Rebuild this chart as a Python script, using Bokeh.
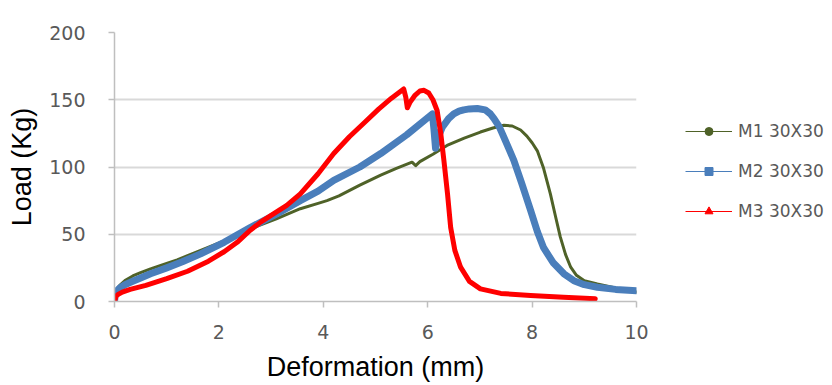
from bokeh.plotting import figure
from bokeh.layouts import row
from bokeh.models import Legend, LegendItem, Range1d, FixedTicker, ColumnDataSource
from bokeh.embed import file_html
from bokeh.resources import INLINE

# ---- data ----
m1_x = [0, 0.02, 0.1, 0.2, 0.35, 0.5, 0.69, 0.9, 1.2, 1.65, 2.1, 2.6, 3.1, 3.56, 3.9, 4.07, 4.3, 4.7, 5.1, 5.4, 5.7, 5.77, 5.85, 6.1, 6.37, 6.7, 7.01, 7.25, 7.46, 7.62, 7.78, 7.9, 8.0, 8.1, 8.22, 8.35, 8.45, 8.54, 8.64, 8.74, 8.85, 9.0, 9.25, 9.6, 10]
m1_y = [0, 8, 12, 15.5, 19, 21.5, 24.3, 27, 31, 38, 45, 54, 61.5, 69, 73, 75, 78.5, 86.5, 94, 99, 103.6, 101, 104, 109.5, 116, 121.5, 126, 129, 131, 130.5, 127.5, 123, 118, 112, 99, 80, 63, 48, 35, 25.5, 19.5, 15.5, 13, 10, 7]

m2_x = [0, 0.02, 0.1, 0.2, 0.35, 0.5, 0.69, 1.0, 1.3, 1.65, 2.1, 2.6, 3.1, 3.56, 3.9, 4.2, 4.7, 5.1, 5.6, 6.09, 6.12, 6.15, 6.2, 6.28, 6.4, 6.5, 6.6, 6.69, 6.8, 6.95, 7.1, 7.2, 7.27, 7.37, 7.45, 7.55, 7.65, 7.8, 7.97, 8.1, 8.22, 8.4, 8.61, 8.8, 9.0, 9.25, 9.6, 10]
m2_y = [0, 7, 10, 12.5, 15, 17.5, 20.6, 25, 29.5, 35.4, 44, 55, 65, 75, 82, 90, 100, 110, 124, 139.5, 128, 114, 122, 129.6, 136, 139.5, 141.5, 142.5, 143.2, 143.5, 142.5, 139.5, 136, 130, 123, 114, 105, 88, 68, 52, 40, 29, 20.6, 15.5, 12.5, 10.6, 9, 8]

m3_x = [0, 0.03, 0.08, 0.15, 0.3, 0.6, 1.0, 1.4, 1.8, 2.1, 2.35, 2.6, 2.8, 3.0, 3.3, 3.56, 3.9, 4.2, 4.5, 4.8, 5.06, 5.3, 5.54, 5.58, 5.61, 5.66, 5.75, 5.85, 5.93, 6.02, 6.1, 6.18, 6.25, 6.31, 6.38, 6.44, 6.52, 6.63, 6.8, 7.01, 7.4, 7.97, 8.6, 9.21]
m3_y = [0, 4, 5.5, 7, 9, 12, 17, 22.5, 30, 37, 44, 53, 59, 64, 71.5, 80, 95, 110, 122.5, 133.5, 143, 151, 158, 152, 144, 148, 153, 156.5, 157, 155, 150, 142, 125, 105, 80, 55, 38, 25.5, 15, 9.4, 6, 4.5, 3.2, 2]

series_names = ["M1 30X30", "M2 30X30", "M3 30X30"]
x_ticks = [0, 2, 4, 6, 8, 10]
y_ticks = [0, 50, 100, 150, 200]

colors = ["#4f6228", "#4a7ebb", "#ff0000"]
widths = [3, 7, 5]
markers = ["circle", "square", "triangle"]
marker_sizes = [4, 7, 7]

p = figure(width=650, height=385, output_backend="svg", toolbar_location=None,
           x_range=Range1d(0, 10), y_range=Range1d(0, 200),
           min_border_left=114, min_border_right=14, min_border_top=32, min_border_bottom=84)
p.outline_line_color = None
p.background_fill_color = "white"
p.border_fill_color = "white"

# legend-only panel to the right of the chart
lg = figure(width=182, height=385, output_backend="svg", toolbar_location=None,
            x_range=Range1d(0, 1), y_range=Range1d(0, 1),
            min_border_left=0, min_border_right=0, min_border_top=0, min_border_bottom=0)
lg.axis.visible = False
lg.grid.visible = False
lg.outline_line_color = None
lg.border_fill_color = "white"
lg.background_fill_color = "white"

data = [(m1_x, m1_y), (m2_x, m2_y), (m3_x, m3_y)]
items = []
for (xs, ys), c, w, mk, ms, name in zip(data, colors, widths, markers, marker_sizes, series_names):
    p.line(xs, ys, line_color=c, line_width=w, line_join="round", line_cap="round")
    src = ColumnDataSource(dict(x=[float("nan")], y=[float("nan")]))
    lr = lg.line("x", "y", source=src, line_color=c, line_width=1)
    sr = lg.scatter("x", "y", source=src, marker=mk, size=ms, fill_color=c, line_color=c)
    items.append(LegendItem(label=name, renderers=[lr, sr]))

legend = Legend(items=items, location=(35, 80), padding=0, margin=0, spacing=20,
                glyph_width=47, glyph_height=20, label_height=20, label_standoff=6,
                label_text_font="DejaVu Sans", label_text_font_size="17px",
                label_text_color="#595959", border_line_color=None,
                background_fill_alpha=0)
lg.add_layout(legend, "center")

p.xaxis.ticker = FixedTicker(ticks=x_ticks)
p.yaxis.ticker = FixedTicker(ticks=y_ticks)
p.xgrid.visible = False
p.ygrid.grid_line_color = "#d9d9d9"
p.ygrid.grid_line_width = 2

for ax in (p.xaxis[0], p.yaxis[0]):
    ax.axis_line_color = "#bfbfbf"
    ax.axis_line_width = 1.5
    ax.major_tick_line_color = "#bfbfbf"
    ax.major_tick_line_width = 1.5
    ax.major_tick_in = 0
    ax.major_tick_out = 6
    ax.minor_tick_line_color = None
    ax.major_label_text_font = "DejaVu Sans"
    ax.major_label_text_font_size = "19px"
    ax.major_label_text_color = "#595959"
    ax.axis_label_text_font = "Liberation Sans"
    ax.axis_label_text_font_size = "27px"
    ax.axis_label_text_font_style = "normal"
    ax.axis_label_text_color = "#000000"

p.xaxis.axis_label = "Deformation (mm)"
p.yaxis.axis_label = "Load (Kg)"
p.xaxis.major_label_standoff = 17
p.xaxis.axis_label_standoff = 10
p.yaxis.major_label_standoff = 23
p.yaxis.axis_label_standoff = 9

layout = row(p, lg)
open("out.html", "w").write(file_html(layout, INLINE))
